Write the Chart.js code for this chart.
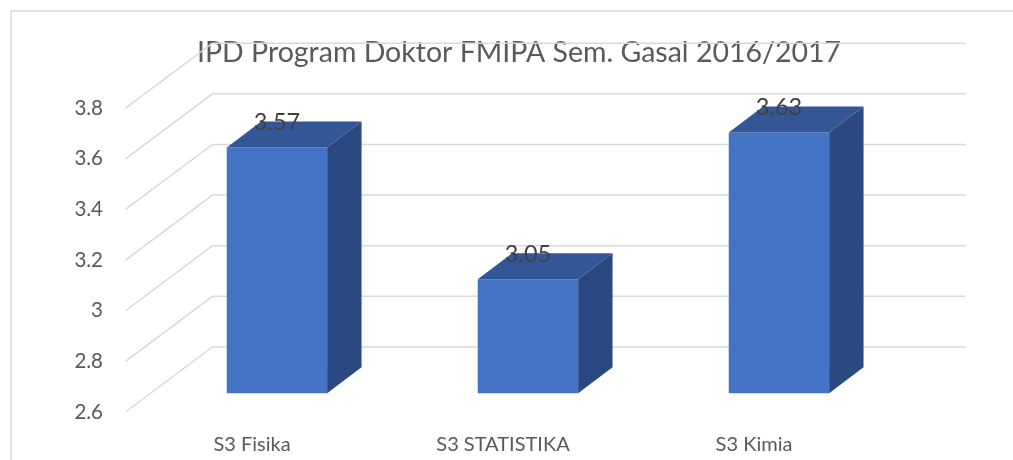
<!DOCTYPE html>
<html>
<head>
<meta charset="utf-8">
<script src="https://cdn.jsdelivr.net/npm/chart.js@4/dist/chart.umd.min.js"></script>
<style>
html, body { margin: 0; padding: 0; background: #fff; }
canvas { display: block; }
</style>
</head>
<body>
<canvas id="ipdChart" width="1013" height="460"></canvas>
<script>
const categories = ["S3 Fisika", "S3 STATISTIKA", "S3 Kimia"];
const ipdValues = [3.57, 3.05, 3.63];
const yTicks = [2.6, 2.8, 3.0, 3.2, 3.4, 3.6, 3.8];
const chartTitle = "IPD Program Doktor FMIPA Sem. Gasal 2016/2017";

// oblique depth of the 3D box (front plane -> back wall)
const wall = { dx: 86, dy: -65 };
const barFront = 0.29, barBack = 0.69;
const textFont = "Lato";

const box3d = {
    id: "box3d",
    beforeDraw(chart) {
        const ctx = chart.ctx;
        ctx.save();
        ctx.strokeStyle = "#d9d9d9";
        ctx.lineWidth = 1.5;
        ctx.strokeRect(11, 11, chart.width + 40, chart.height + 40);
        ctx.restore();
    },
    beforeDatasetsDraw(chart) {
        const ctx = chart.ctx;
        const area = chart.chartArea;
        const y = chart.scales.y;
        ctx.save();
        ctx.strokeStyle = "#d9d9d9";
        ctx.lineWidth = 1.5;
        yTicks.forEach(function (v) {
            const py = y.getPixelForValue(v);
            ctx.beginPath();
            ctx.moveTo(area.left - 1, py);
            ctx.lineTo(area.left + wall.dx, py + wall.dy);
            ctx.lineTo(area.right + wall.dx, py + wall.dy);
            ctx.stroke();
        });
        ctx.restore();
        // bars sit part way into the box
        ctx.save();
        ctx.translate(wall.dx * barFront, wall.dy * barFront);
    },
    afterDatasetsDraw(chart) {
        const ctx = chart.ctx;
        const d = barBack - barFront;
        const ox = wall.dx * d, oy = wall.dy * d;
        const floor = chart.scales.y.getPixelForValue(yTicks[0]);
        chart.getDatasetMeta(0).data.forEach(function (bar, i) {
            const l = bar.x - bar.width / 2, r = bar.x + bar.width / 2;
            const base = Math.min(bar.base, floor);
            ctx.fillStyle = "#335796";
            ctx.beginPath();
            ctx.moveTo(l, bar.y);
            ctx.lineTo(r, bar.y);
            ctx.lineTo(r + ox, bar.y + oy);
            ctx.lineTo(l + ox, bar.y + oy);
            ctx.closePath();
            ctx.fill();

            ctx.fillStyle = "#2B4882";
            ctx.beginPath();
            ctx.moveTo(r, bar.y);
            ctx.lineTo(r + ox, bar.y + oy);
            ctx.lineTo(r + ox, base + oy);
            ctx.lineTo(r, base);
            ctx.closePath();
            ctx.fill();

            ctx.fillStyle = "#404040";
            ctx.font = "23.5px " + textFont;
            ctx.textAlign = "center";
            ctx.textBaseline = "middle";
            ctx.fillText(String(ipdValues[i]), bar.x, bar.y - 25);
        });
        ctx.restore();
    }
};

new Chart(document.getElementById("ipdChart"), {
    type: "bar",
    data: {
        labels: categories,
        datasets: [{
            label: "IPD",
            data: ipdValues,
            backgroundColor: "#4472C4",
            borderWidth: 0,
            barPercentage: 0.4,
            categoryPercentage: 1
        }]
    },
    options: {
        responsive: false,
        animation: false,
        layout: {
            padding: { left: 25, right: 0, top: 0, bottom: 0 }
        },
        plugins: {
            legend: { display: false },
            tooltip: { enabled: false },
            title: {
                display: true,
                text: chartTitle,
                color: "#595959",
                font: { family: textFont, size: 28.5, weight: "normal" },
                padding: { top: 36, bottom: 38 }
            }
        },
        scales: {
            x: {
                grid: { display: false, drawTicks: false },
                border: { display: false },
                ticks: {
                    color: "#595959",
                    font: { family: textFont, size: 20 },
                    padding: 21
                },
                afterFit: function (s) { s.height = 48; }
            },
            y: {
                min: 2.6,
                max: 3.8,
                afterBuildTicks: function (s) {
                    s.ticks = yTicks.map(function (v) { return { value: v }; });
                },
                grid: { display: false, drawTicks: false },
                border: { display: false },
                ticks: {
                    color: "#595959",
                    font: { family: textFont, size: 20.5 },
                    padding: 23.5,
                    callback: function (v) { return String(v); }
                },
                afterFit: function (s) { s.width = 101.5; }
            },
            yRight: {
                position: "right",
                grid: { display: false, drawTicks: false },
                border: { display: false },
                ticks: { display: false },
                afterFit: function (s) { s.width = 133.5; }
            }
        }
    },
    plugins: [box3d]
});
</script>
</body>
</html>
